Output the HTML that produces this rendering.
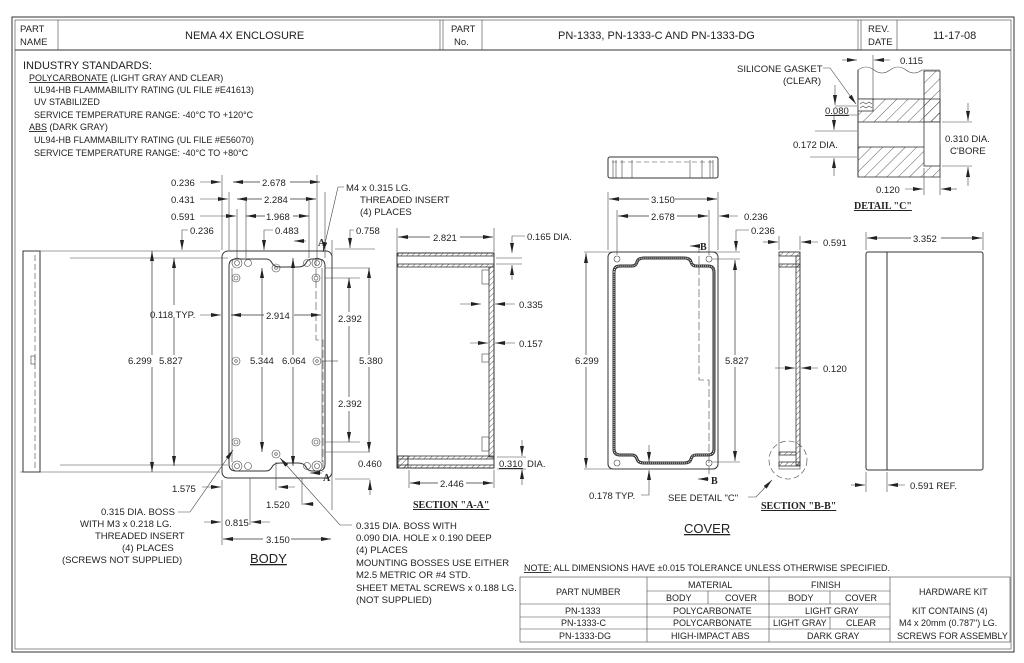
<!DOCTYPE html>
<html><head><meta charset="utf-8"><style>
html,body{margin:0;padding:0;background:#fff;}
svg{display:block}
text{font-family:"Liberation Sans Narrow","Liberation Sans",sans-serif;font-size:9.5px;fill:#222;}
.s{font-size:9px}
.b{font-family:"Liberation Serif",serif;font-weight:bold;font-size:10px}
.l{stroke:#333;stroke-width:1;fill:none}
.t{stroke:#444;stroke-width:0.6;fill:none}
.d{stroke:#333;stroke-width:0.7;fill:none;marker-start:url(#a);marker-end:url(#a)}
.h{fill:url(#hat);stroke:#333;stroke-width:0.8}
</style></head><body>
<svg width="1024" height="663" viewBox="0 0 1024 663" xmlns="http://www.w3.org/2000/svg">
<defs>
<marker id="a" viewBox="0 0 10 4" refX="10" refY="2" markerWidth="10" markerHeight="4" orient="auto-start-reverse" markerUnits="userSpaceOnUse"><path d="M0,0L10,2L0,4z" fill="#222"/></marker>
<pattern id="hat" width="4" height="4" patternUnits="userSpaceOnUse" patternTransform="rotate(45)"><line x1="0" y1="0" x2="0" y2="4" stroke="#333" stroke-width="0.8"/></pattern>
<pattern id="hat2" width="8" height="8" patternUnits="userSpaceOnUse" patternTransform="rotate(45)"><line x1="0" y1="0" x2="0" y2="8" stroke="#333" stroke-width="0.8"/></pattern>
</defs>
<rect x="12" y="17" width="1002" height="635" class="l" stroke-width="1.2"/>
<rect x="15" y="20" width="996" height="629" class="t"/>
<line x1="15" y1="50" x2="1011" y2="50" class="l"/>
<line x1="58" y1="20" x2="58" y2="50" class="t"/>
<line x1="440" y1="20" x2="440" y2="50" class="t"/><line x1="443" y1="20" x2="443" y2="50" class="t"/>
<line x1="482" y1="20" x2="482" y2="50" class="t"/>
<line x1="858" y1="20" x2="858" y2="50" class="t"/><line x1="861" y1="20" x2="861" y2="50" class="t"/>
<line x1="897" y1="20" x2="897" y2="50" class="t"/>
<text x="20" y="32">PART</text><text x="20" y="45">NAME</text>
<text x="185" y="39" style="font-size:11px">NEMA 4X ENCLOSURE</text>
<text x="451" y="32">PART</text><text x="454" y="45">No.</text>
<text x="558" y="39" style="font-size:11px">PN-1333, PN-1333-C AND PN-1333-DG</text>
<text x="868" y="32">REV.</text><text x="868" y="45">DATE</text>
<text x="933" y="39" style="font-size:11px">11-17-08</text>

<text x="23" y="69" style="font-size:11px">INDUSTRY STANDARDS:</text>
<text x="29" y="81" class="s"><tspan text-decoration="underline">POLYCARBONATE</tspan> (LIGHT GRAY AND CLEAR)</text>
<text x="34" y="93" class="s">UL94-HB FLAMMABILITY RATING (UL FILE #E41613)</text>
<text x="34" y="105" class="s">UV STABILIZED</text>
<text x="34" y="118" class="s">SERVICE TEMPERATURE RANGE:  -40°C TO +120°C</text>
<text x="29" y="130" class="s"><tspan text-decoration="underline">ABS</tspan> (DARK GRAY)</text>
<text x="34" y="143" class="s">UL94-HB FLAMMABILITY RATING (UL FILE #E56070)</text>
<text x="34" y="156" class="s">SERVICE TEMPERATURE RANGE:  -40°C TO +80°C</text>

<rect x="23" y="251" width="17" height="221" class="l"/>
<line x1="35" y1="255" x2="35" y2="468" class="t" stroke-dasharray="6,3"/>
<rect x="31" y="356" width="4" height="8" class="t"/>

<rect x="222" y="251" width="110" height="227" rx="6" class="l" stroke-width="1.4"/>
<path d="M229,266 L229,464 Q229,471 236,471 L266,471 Q270,471 272,467 Q274,463 280,463 L298,463 Q304,463 306,467 Q308,471 312,471 L318,471 Q325,471 325,464 L325,266 Q325,259 318,259 L312,259 Q308,259 306,263 Q304,267 298,267 L280,267 Q274,267 272,263 Q270,259 266,259 L236,259 Q229,259 229,266Z" class="l"/>
<path d="M232,268 L232,462 M322,268 L322,462" class="t"/>
<g class="t">
<circle cx="237" cy="263" r="5"/><circle cx="237" cy="263" r="2.5"/>
<circle cx="317" cy="263" r="5"/><circle cx="317" cy="263" r="2.5"/>
<circle cx="237" cy="466" r="5"/><circle cx="237" cy="466" r="2.5"/>
<circle cx="317" cy="466" r="5"/><circle cx="317" cy="466" r="2.5"/>
<circle cx="248" cy="263" r="3.5"/><circle cx="307" cy="263" r="3.5"/>
<circle cx="248" cy="466" r="3.5"/><circle cx="307" cy="466" r="3.5"/>
<circle cx="276" cy="268" r="4"/><circle cx="276" cy="268" r="1.3"/>
<circle cx="276" cy="454" r="4"/><circle cx="276" cy="454" r="1.3"/>
<circle cx="236" cy="361" r="4"/><circle cx="236" cy="361" r="1.3"/>
<circle cx="317" cy="361" r="4"/><circle cx="317" cy="361" r="1.3"/>
<circle cx="236" cy="278" r="4"/><circle cx="236" cy="278" r="2"/>
<circle cx="316" cy="278" r="4"/><circle cx="316" cy="278" r="2"/>
<circle cx="236" cy="442" r="4"/><circle cx="236" cy="442" r="2"/>
<circle cx="316" cy="442" r="4"/><circle cx="316" cy="442" r="2"/>
</g>
<path d="M316,258 L316,340 L323,340 L323,472" class="t" stroke-dasharray="8,3"/>
<g class="t">
<line x1="222" y1="175" x2="222" y2="250"/><line x1="229" y1="192" x2="229" y2="250"/><line x1="237" y1="209" x2="237" y2="258"/>
<line x1="246" y1="201" x2="246" y2="258"/><line x1="309" y1="201" x2="309" y2="258"/>
<line x1="317" y1="175" x2="317" y2="258"/><line x1="325" y1="192" x2="325" y2="258"/>
<line x1="332" y1="240" x2="332" y2="510"/>
<line x1="25" y1="251" x2="220" y2="251"/><line x1="20" y1="472" x2="220" y2="472"/>
<line x1="70" y1="258" x2="228" y2="258"/><line x1="60" y1="465" x2="228" y2="465"/>
<line x1="335" y1="249" x2="375" y2="249"/><line x1="325" y1="268" x2="370" y2="268"/><line x1="325" y1="278" x2="360" y2="278"/>
<line x1="325" y1="442" x2="360" y2="442"/><line x1="325" y1="452" x2="370" y2="452"/><line x1="335" y1="479" x2="370" y2="479"/>
</g>
<line x1="200" y1="182" x2="221" y2="182" class="t" marker-end="url(#a)"/><text x="171" y="186">0.236</text>
<line x1="233" y1="182" x2="320" y2="182" class="d"/><rect x="260" y="176" width="30" height="11" fill="#fff"/><text x="262" y="186">2.678</text>
<line x1="200" y1="199" x2="228" y2="199" class="t" marker-end="url(#a)"/><text x="171" y="203">0.431</text>
<line x1="237" y1="199" x2="316" y2="199" class="d"/><rect x="262" y="193" width="28" height="11" fill="#fff"/><text x="264" y="203">2.284</text>
<line x1="200" y1="216" x2="236" y2="216" class="t" marker-end="url(#a)"/><text x="171" y="220">0.591</text>
<line x1="246" y1="216" x2="309" y2="216" class="d"/><rect x="265" y="210" width="28" height="11" fill="#fff"/><text x="266" y="220">1.968</text>
<text x="190" y="234">0.236</text><path d="M188,230 L182,230 L182,250" class="t" marker-end="url(#a)"/>
<text x="275" y="234">0.483</text><path d="M273,230 L264,230 L264,250" class="t" marker-end="url(#a)"/>
<line x1="306" y1="241" x2="294" y2="241" class="t" marker-end="url(#a)"/>
<text x="318" y="246" class="b">A</text>
<text x="356" y="234">0.758</text><path d="M354,230 L350,230 L350,248" class="t" marker-end="url(#a)"/>
<text x="346" y="191">M4 x 0.315 LG.</text><text x="360" y="203">THREADED INSERT</text><text x="360" y="215">(4) PLACES</text>
<path d="M344,187 L338,187 L323,252" class="t" marker-end="url(#a)"/>
<line x1="174" y1="258" x2="174" y2="466" class="d"/><rect x="157" y="305" width="22" height="12" fill="#fff"/>
<text x="150" y="318">0.118 TYP.</text><line x1="200" y1="315" x2="221" y2="315" class="t" marker-end="url(#a)"/>
<line x1="231" y1="315" x2="321" y2="315" class="d"/><rect x="264" y="309" width="30" height="12" fill="#fff"/><text x="266" y="319">2.914</text>
<line x1="152" y1="251" x2="152" y2="472" class="d"/><rect x="128" y="355" width="50" height="12" fill="#fff"/><text x="128" y="364">6.299</text><text x="159" y="364">5.827</text>
<line x1="262" y1="268" x2="262" y2="452" class="d"/><rect x="247" y="355" width="30" height="12" fill="#fff"/><text x="250" y="364">5.344</text>
<line x1="293" y1="258" x2="293" y2="466" class="d"/><rect x="280" y="355" width="30" height="12" fill="#fff"/><text x="282" y="364">6.064</text>
<line x1="349" y1="278" x2="349" y2="442" class="d"/><rect x="336" y="312" width="30" height="14" fill="#fff"/><text x="338" y="322">2.392</text>
<rect x="336" y="397" width="30" height="14" fill="#fff"/><text x="338" y="407">2.392</text>
<line x1="369" y1="268" x2="369" y2="452" class="d"/><rect x="358" y="355" width="24" height="12" fill="#fff"/><text x="359" y="364">5.380</text>
<line x1="338" y1="361" x2="322" y2="361" class="t"/>
<text x="358" y="467">0.460</text><line x1="370" y1="495" x2="370" y2="480" class="t" marker-end="url(#a)"/>
<text x="323" y="481" class="b">A</text><line x1="322" y1="473" x2="310" y2="473" class="t" marker-end="url(#a)"/>
<text x="172" y="492">1.575</text><line x1="202" y1="487" x2="221" y2="487" class="t" marker-end="url(#a)"/>
<line x1="250" y1="478" x2="250" y2="525" class="t"/><line x1="276" y1="462" x2="276" y2="490" class="t"/><line x1="302" y1="478" x2="302" y2="505" class="t"/>
<line x1="295" y1="487" x2="278" y2="487" class="t" marker-end="url(#a)"/>
<text x="266" y="508">1.520</text><line x1="314" y1="504" x2="303" y2="504" class="t" marker-end="url(#a)"/>
<line x1="204" y1="522" x2="221" y2="522" class="t" marker-end="url(#a)"/><text x="225" y="526">0.815</text><line x1="270" y1="522" x2="251" y2="522" class="t" marker-end="url(#a)"/>
<line x1="222" y1="480" x2="222" y2="545" class="t"/>
<line x1="223" y1="539" x2="331" y2="539" class="d"/><rect x="263" y="533" width="28" height="12" fill="#fff"/><text x="266" y="543">3.150</text>
<text x="250" y="563" style="font-size:13px" text-decoration="underline">BODY</text>
<text x="101" y="515">0.315 DIA. BOSS</text><text x="80" y="527">WITH M3 x 0.218 LG.</text><text x="95" y="539">THREADED INSERT</text><text x="122" y="551">(4) PLACES</text><text x="62" y="563">(SCREWS NOT SUPPLIED)</text>
<path d="M178,512 L190,512 L233,450" class="t" marker-end="url(#a)"/>
<path d="M352,525 L340,525 L280,458" class="t" marker-end="url(#a)"/>
<text x="356" y="529">0.315 DIA. BOSS WITH</text><text x="356" y="541">0.090 DIA. HOLE x 0.190 DEEP</text><text x="356" y="553">(4) PLACES</text>
<text x="356" y="566">MOUNTING BOSSES USE EITHER</text><text x="356" y="578">M2.5 METRIC OR #4 STD.</text><text x="356" y="591">SHEET METAL SCREWS x 0.188 LG.</text><text x="356" y="603">(NOT SUPPLIED)</text>

<rect x="397" y="253" width="97" height="215" class="l"/>
<rect x="398" y="253" width="96" height="3" class="h"/>
<rect x="398" y="264" width="96" height="3" class="h"/>
<rect x="489" y="267" width="5" height="190" class="h"/>
<rect x="398" y="456" width="96" height="3" class="h"/>
<rect x="398" y="465" width="96" height="3" class="h"/>
<rect x="398" y="456" width="10" height="12" class="h"/>
<rect x="482" y="270" width="7" height="14" class="t"/><rect x="482" y="437" width="7" height="14" class="t"/><rect x="482" y="354" width="7" height="8" class="t"/>
<line x1="397" y1="228" x2="397" y2="252" class="t"/><line x1="494" y1="228" x2="494" y2="252" class="t"/>
<line x1="398" y1="237" x2="493" y2="237" class="d"/><rect x="430" y="231" width="30" height="12" fill="#fff"/><text x="433" y="241">2.821</text>
<text x="527" y="240">0.165 DIA.</text><path d="M525,236 L512,236 L512,253" class="t" marker-end="url(#a)"/>
<line x1="496" y1="258" x2="522" y2="258" class="t"/><line x1="496" y1="264" x2="522" y2="264" class="t"/>
<line x1="512" y1="280" x2="512" y2="265" class="t" marker-end="url(#a)"/>
<line x1="460" y1="304" x2="481" y2="304" class="t" marker-end="url(#a)"/><line x1="515" y1="304" x2="495" y2="304" class="t" marker-end="url(#a)"/><text x="519" y="308">0.335</text>
<line x1="470" y1="343" x2="488" y2="343" class="t" marker-end="url(#a)"/><line x1="515" y1="343" x2="495" y2="343" class="t" marker-end="url(#a)"/><text x="519" y="347">0.157</text>
<line x1="522" y1="440" x2="522" y2="456" class="t" marker-end="url(#a)"/><line x1="522" y1="485" x2="522" y2="469" class="t" marker-end="url(#a)"/>
<line x1="497" y1="457" x2="526" y2="457" class="t"/><line x1="497" y1="469" x2="526" y2="469" class="t"/>
<text x="499" y="467" text-decoration="underline">0.310</text><text x="527" y="467">DIA.</text>
<line x1="409" y1="470" x2="409" y2="488" class="t"/><line x1="494" y1="470" x2="494" y2="488" class="t"/>
<line x1="410" y1="483" x2="493" y2="483" class="d"/><rect x="438" y="477" width="28" height="12" fill="#fff"/><text x="440" y="487">2.446</text>
<text x="413" y="508" class="b" text-decoration="underline">SECTION "A-A"</text>

<rect x="608" y="157" width="110" height="21" rx="2" class="l"/>
<line x1="612" y1="162" x2="714" y2="162" class="t" stroke-dasharray="5,3"/>
<g class="t"><line x1="613" y1="160" x2="613" y2="178"/><line x1="616" y1="160" x2="616" y2="178"/><line x1="622" y1="160" x2="622" y2="178"/><line x1="632" y1="160" x2="632" y2="178"/><line x1="690" y1="160" x2="690" y2="178"/><line x1="702" y1="160" x2="702" y2="178"/><line x1="710" y1="160" x2="710" y2="178"/><line x1="713" y1="160" x2="713" y2="178"/></g>
<rect x="608" y="252" width="110" height="217" rx="5" class="l" stroke-width="1.3"/>
<path d="M614,272 Q614,266 620,266 L632,266 Q636,266 637,262 Q638,258 644,258 L684,258 Q690,258 691,262 Q692,266 696,266 L708,266 Q714,266 714,272 L714,449 Q714,455 708,455 L696,455 Q692,455 691,459 Q690,463 684,463 L644,463 Q638,463 637,459 Q636,455 632,455 L620,455 Q614,455 614,449 Z" fill="none" stroke="#333" stroke-width="3"/>
<path d="M614,272 Q614,266 620,266 L632,266 Q636,266 637,262 Q638,258 644,258 L684,258 Q690,258 691,262 Q692,266 696,266 L708,266 Q714,266 714,272 L714,449 Q714,455 708,455 L696,455 Q692,455 691,459 Q690,463 684,463 L644,463 Q638,463 637,459 Q636,455 632,455 L620,455 Q614,455 614,449 Z" fill="none" stroke="#fff" stroke-width="1" stroke-dasharray="1,1"/>
<g class="t"><circle cx="617" cy="259" r="3"/><circle cx="709" cy="259" r="3"/><circle cx="617" cy="463" r="3"/><circle cx="709" cy="463" r="3"/></g>
<path d="M699,245 L699,380 L709,380 L709,475" class="t" stroke-dasharray="8,3"/>
<text x="700" y="250" class="b">B</text><line x1="699" y1="246" x2="690" y2="246" class="t" marker-end="url(#a)"/>
<text x="711" y="484" class="b">B</text><line x1="709" y1="479" x2="698" y2="479" class="t" marker-end="url(#a)"/>
<line x1="608" y1="192" x2="608" y2="250" class="t"/><line x1="718" y1="192" x2="718" y2="250" class="t"/><line x1="617" y1="210" x2="617" y2="255" class="t"/><line x1="709" y1="210" x2="709" y2="255" class="t"/>
<line x1="609" y1="199" x2="717" y2="199" class="d"/><rect x="649" y="193" width="26" height="12" fill="#fff"/><text x="651" y="203">3.150</text>
<line x1="618" y1="216" x2="708" y2="216" class="d"/><rect x="649" y="210" width="28" height="12" fill="#fff"/><text x="651" y="220">2.678</text>
<line x1="738" y1="216" x2="719" y2="216" class="t" marker-end="url(#a)"/><text x="744" y="220">0.236</text>
<text x="751" y="234">0.236</text><path d="M749,230 L736,230 L736,251" class="t" marker-end="url(#a)"/>
<line x1="584" y1="252" x2="740" y2="252" class="t"/><line x1="712" y1="259" x2="740" y2="259" class="t"/>
<line x1="584" y1="469" x2="710" y2="469" class="t"/><line x1="712" y1="462" x2="740" y2="462" class="t"/>
<line x1="586" y1="253" x2="586" y2="468" class="d"/><rect x="575" y="355" width="24" height="12" fill="#fff"/><text x="575" y="364">6.299</text>
<line x1="735" y1="260" x2="735" y2="461" class="d"/><rect x="724" y="355" width="24" height="12" fill="#fff"/><text x="725" y="364">5.827</text>
<line x1="649" y1="445" x2="649" y2="462" class="t" marker-end="url(#a)"/><path d="M649,488 L649,470" class="t" marker-end="url(#a)"/><path d="M649,488 L649,495 L641,495" class="t"/>
<text x="589" y="499">0.178 TYP.</text>
<text x="668" y="501">SEE DETAIL "C"</text><path d="M748,497 L756,497 L772,480" class="t" marker-end="url(#a)"/>
<text x="684" y="533" style="font-size:13px" text-decoration="underline">COVER</text>

<rect x="779" y="252" width="21" height="217" class="t"/>
<rect x="779" y="252" width="21" height="4" class="h"/>
<rect x="779" y="264" width="21" height="3" class="h"/>
<rect x="796" y="256" width="4" height="209" class="h"/>
<rect x="779" y="452" width="17" height="3" class="h"/>
<rect x="779" y="462" width="21" height="4" class="h"/>
<circle cx="788" cy="460" r="19" class="t" stroke-dasharray="6,3"/>
<line x1="779" y1="236" x2="779" y2="250" class="t"/><line x1="800" y1="236" x2="800" y2="250" class="t"/>
<line x1="763" y1="242" x2="778" y2="242" class="t" marker-end="url(#a)"/><line x1="818" y1="242" x2="801" y2="242" class="t" marker-end="url(#a)"/><text x="823" y="246">0.591</text>
<line x1="775" y1="368" x2="795" y2="368" class="t" marker-end="url(#a)"/><line x1="818" y1="368" x2="801" y2="368" class="t" marker-end="url(#a)"/><text x="823" y="372">0.120</text>
<text x="761" y="509" class="b" text-decoration="underline">SECTION "B-B"</text>

<rect x="866" y="252" width="117" height="218" rx="2" class="l"/>
<line x1="887" y1="252" x2="887" y2="470" class="l"/>
<line x1="866" y1="232" x2="866" y2="250" class="t"/><line x1="983" y1="232" x2="983" y2="250" class="t"/>
<line x1="867" y1="238" x2="982" y2="238" class="d"/><rect x="911" y="232" width="30" height="12" fill="#fff"/><text x="913" y="242">3.352</text>
<line x1="866" y1="472" x2="866" y2="492" class="t"/><line x1="887" y1="472" x2="887" y2="492" class="t"/>
<line x1="851" y1="485" x2="865" y2="485" class="t" marker-end="url(#a)"/><line x1="905" y1="485" x2="888" y2="485" class="t" marker-end="url(#a)"/><text x="910" y="489">0.591 REF.</text>

<path d="M858,70 Q866,64 874,70 Q882,76 890,70 Q898,64 906,70 Q914,76 922,70 L940,70" class="t"/>
<line x1="858" y1="70" x2="858" y2="177" class="l"/>
<path d="M924,71 L940,71 L940,122 L924,122 Z" stroke="#333" stroke-width="0.8" style="fill:url(#hat2)"/>
<rect x="858" y="99" width="82" height="23" fill="url(#hat2)" stroke="#333" stroke-width="0.8"/>
<rect x="858" y="99" width="15" height="12" fill="#fff" stroke="#333" stroke-width="0.8"/>
<path d="M860,104 l3,-2 l3,2 l3,-2 l3,2 M860,108 l3,-2 l3,2 l3,-2 l3,2" class="t"/>
<rect x="858" y="147" width="82" height="30" fill="url(#hat2)" stroke="#333" stroke-width="0.8"/>
<rect x="924" y="122" width="16" height="44" fill="#fff" stroke="#333" stroke-width="0.8"/>
<line x1="924" y1="71" x2="924" y2="122" class="t"/>
<line x1="873" y1="55" x2="873" y2="99" class="t"/>
<line x1="842" y1="60" x2="857" y2="60" class="t" marker-end="url(#a)"/><line x1="890" y1="60" x2="874" y2="60" class="t" marker-end="url(#a)"/><text x="900" y="64">0.115</text>
<text x="737" y="72">SILICONE GASKET</text><text x="783" y="84">(CLEAR)</text>
<path d="M823,68 L830,68 L856,104" class="t" marker-end="url(#a)"/>
<line x1="835" y1="106" x2="857" y2="106" class="t"/><line x1="835" y1="115" x2="857" y2="115" class="t"/>
<text x="825" y="114" text-decoration="underline">0.080</text>
<line x1="835" y1="85" x2="835" y2="105" class="t" marker-end="url(#a)"/>
<line x1="815" y1="131" x2="857" y2="131" class="t"/><line x1="810" y1="157" x2="857" y2="157" class="t"/>
<line x1="834" y1="112" x2="834" y2="130" class="t" marker-end="url(#a)"/><line x1="834" y1="176" x2="834" y2="158" class="t" marker-end="url(#a)"/>
<text x="793" y="148">0.172 DIA.</text>
<line x1="942" y1="122" x2="972" y2="122" class="t"/><line x1="942" y1="166" x2="972" y2="166" class="t"/>
<line x1="968" y1="103" x2="968" y2="121" class="t" marker-end="url(#a)"/><line x1="968" y1="186" x2="968" y2="167" class="t" marker-end="url(#a)"/>
<text x="945" y="142">0.310 DIA.</text><text x="950" y="154">C'BORE</text>
<line x1="924" y1="168" x2="924" y2="195" class="t"/><line x1="940" y1="168" x2="940" y2="195" class="t"/>
<line x1="905" y1="189" x2="923" y2="189" class="t" marker-end="url(#a)"/><line x1="957" y1="189" x2="941" y2="189" class="t" marker-end="url(#a)"/><text x="876" y="193">0.120</text>
<text x="854" y="209" class="b" text-decoration="underline">DETAIL "C"</text>

<text x="524" y="571" class="s"><tspan text-decoration="underline">NOTE:</tspan>  ALL DIMENSIONS HAVE ±0.015 TOLERANCE UNLESS OTHERWISE SPECIFIED.</text>
<rect x="520" y="577" width="490" height="65" class="t" stroke-width="0.9"/>
<g class="t">
<line x1="647" y1="577" x2="647" y2="642"/><line x1="769" y1="577" x2="769" y2="642"/><line x1="890" y1="577" x2="890" y2="642"/>
<line x1="647" y1="591" x2="890" y2="591"/><line x1="708" y1="591" x2="708" y2="604"/><line x1="830" y1="591" x2="830" y2="604"/><line x1="830" y1="617" x2="830" y2="629"/>
<line x1="520" y1="604" x2="890" y2="604"/><line x1="520" y1="617" x2="890" y2="617"/><line x1="520" y1="629" x2="890" y2="629"/>
</g>
<text x="556" y="595" class="s">PART NUMBER</text>
<text x="688" y="588" class="s">MATERIAL</text><text x="811" y="588" class="s">FINISH</text>
<text x="666" y="601" class="s">BODY</text><text x="725" y="601" class="s">COVER</text>
<text x="788" y="601" class="s">BODY</text><text x="845" y="601" class="s">COVER</text>
<text x="919" y="595" class="s">HARDWARE KIT</text>
<text x="565" y="614" class="s">PN-1333</text><text x="673" y="614" class="s">POLYCARBONATE</text><text x="805" y="614" class="s">LIGHT GRAY</text><text x="912" y="614" class="s">KIT CONTAINS (4)</text>
<text x="561" y="626" class="s">PN-1333-C</text><text x="673" y="626" class="s">POLYCARBONATE</text><text x="773" y="626" class="s">LIGHT GRAY</text><text x="846" y="626" class="s">CLEAR</text><text x="899" y="626" class="s">M4 x 20mm (0.787") LG.</text>
<text x="559" y="639" class="s">PN-1333-DG</text><text x="671" y="639" class="s">HIGH-IMPACT ABS</text><text x="807" y="639" class="s">DARK GRAY</text><text x="897" y="639" class="s">SCREWS FOR ASSEMBLY</text>
</svg>
</body></html>
